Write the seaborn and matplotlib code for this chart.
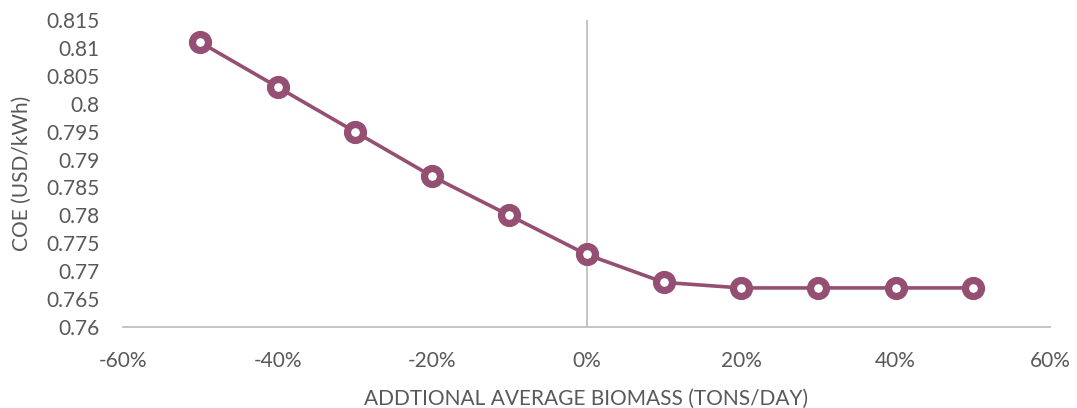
import numpy as np
import pandas as pd
import matplotlib
matplotlib.use("Agg")
import matplotlib.pyplot as plt
import seaborn as sns
from matplotlib.ticker import FuncFormatter

# Données
biomass_change = [-0.5, -0.4, -0.3, -0.2, -0.1, 0.0, 0.1, 0.2, 0.3, 0.4, 0.5]
coe_values = [0.811, 0.803, 0.795, 0.787, 0.780, 0.773, 0.768, 0.767, 0.767, 0.767, 0.767]
y_ticks = [0.76, 0.765, 0.77, 0.775, 0.78, 0.785, 0.79, 0.795, 0.8, 0.805, 0.81, 0.815]
x_ticks = [-0.6, -0.4, -0.2, 0.0, 0.2, 0.4, 0.6]

sns.set_style("white")
plt.rcParams['font.family'] = ['Lato', 'DejaVu Sans']

line_color = "#954F72"
text_color = "#595959"
axis_color = "#BFBFBF"

df = pd.DataFrame({"biomass": biomass_change, "coe": coe_values})

fig = plt.figure(figsize=(10.77, 4.08), dpi=100)
ax = fig.add_axes([0.1142, 0.1985, 0.8608, 0.7525])

sns.lineplot(data=df, x="biomass", y="coe", ax=ax, color=line_color,
             linewidth=2.6, marker="o", markersize=11.5,
             markerfacecolor="white", markeredgecolor=line_color,
             markeredgewidth=5.2)

# Axe vertical à 0 (style Excel)
ax.axvline(0, color=axis_color, linewidth=1.3, zorder=0)

ax.set_xlim(-0.6, 0.6)
ax.set_ylim(0.76, 0.815)
ax.set_xticks(x_ticks)
ax.set_yticks(y_ticks)
ax.xaxis.set_major_formatter(FuncFormatter(lambda v, p: f"{v*100:.0f}%"))
ax.yaxis.set_major_formatter(FuncFormatter(lambda v, p: f"{v:g}"))

for side in ["top", "right", "left"]:
    ax.spines[side].set_visible(False)
ax.spines["bottom"].set_color(axis_color)
ax.spines["bottom"].set_linewidth(1.3)

ax.tick_params(axis="both", length=0, labelsize=15, labelcolor=text_color)
ax.tick_params(axis="x", pad=17)
ax.tick_params(axis="y", pad=17)

ax.set_xlabel("ADDTIONAL AVERAGE BIOMASS (TONS/DAY)", fontsize=15, color=text_color, labelpad=13)
ax.set_ylabel("COE (USD/kWh)", fontsize=15, color=text_color, labelpad=10)

fig.savefig("out.png", dpi=100)
